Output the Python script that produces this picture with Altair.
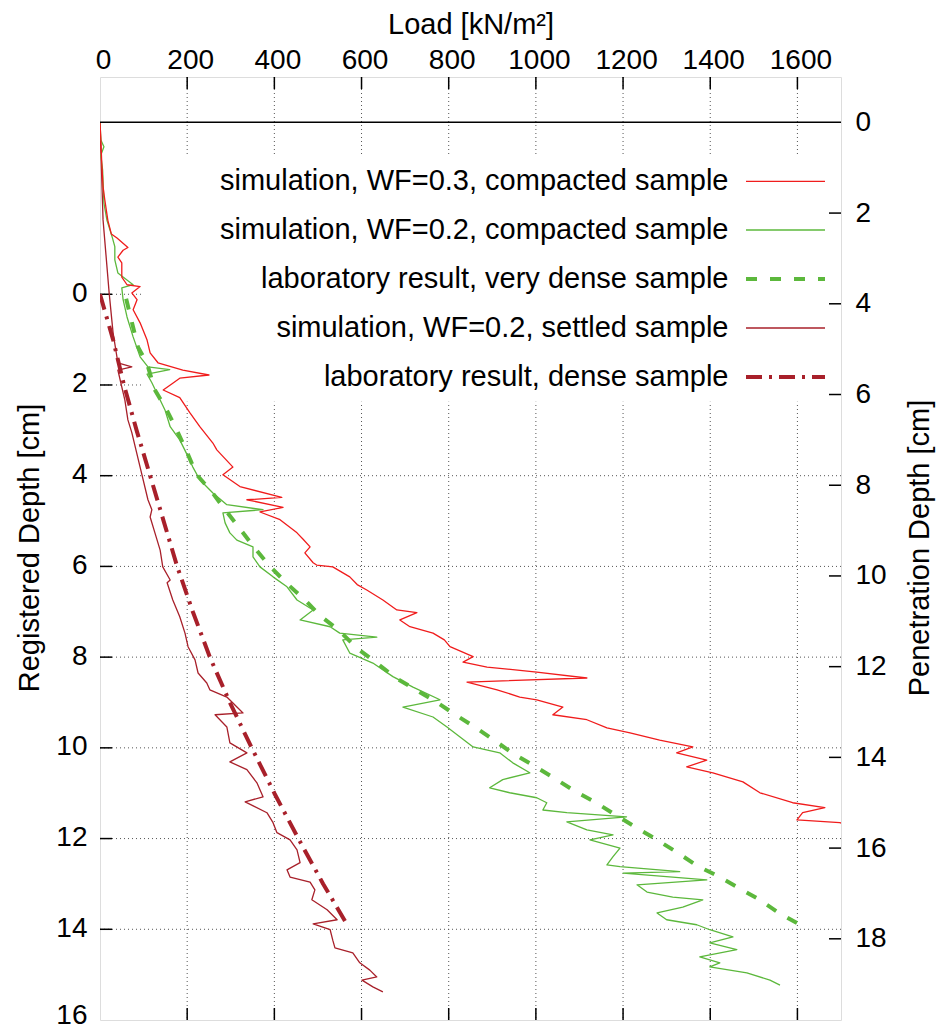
import altair as alt
import pandas as pd

# ------------------------------------------------------------------ data
X_TICKS = [0, 200, 400, 600, 800, 1000, 1200, 1400, 1600]
LEFT_TICKS = [0, 2, 4, 6, 8, 10, 12, 14, 16]
RIGHT_TICKS = [0, 2, 4, 6, 8, 10, 12, 14, 16, 18]
OFFSET = 3.79  # penetration depth minus registered depth [cm]

LABELS = [
    "simulation, WF=0.3, compacted sample",
    "simulation, WF=0.2, compacted sample",
    "laboratory result, very dense sample",
    "simulation, WF=0.2, settled sample",
    "laboratory result, dense sample",
]

# simulation, WF=0.3, compacted sample
RED_LOAD = [0, 2, 4, 7, 11, 18, 26, 39, 64, 53, 41, 50, 50, 62, 92, 73, 85, 76, 92, 108,
            115, 133, 190, 250, 183, 167, 145, 183, 206, 229, 259, 268, 305, 282, 321, 417,
            337, 420, 367, 413, 452, 466, 482, 470, 489, 497, 534, 573, 590, 612, 649, 681,
            727, 688, 711, 764, 790, 803, 856, 833, 888, 1002, 1117, 842, 911, 963, 1002,
            1062, 1039, 1117, 1163, 1216, 1284, 1360, 1323, 1392, 1346, 1406, 1475, 1514,
            1589, 1663, 1612, 1599, 1697, 1760]
RED_DEPTH = [-3.79, -3.40, -2.90, -2.37, -2.08, -1.63, -1.33, -1.24, -1.03, -0.97, -0.82,
             -0.69, -0.38, -0.21, -0.17, -0.03, 0.12, 0.34, 0.63, 1.01, 1.29, 1.51, 1.67,
             1.78, 1.85, 1.96, 2.11, 2.28, 2.61, 2.92, 3.28, 3.43, 3.81, 3.98, 4.24, 4.48,
             4.53, 4.70, 4.80, 4.97, 5.26, 5.40, 5.57, 5.70, 5.92, 5.97, 6.01, 6.23, 6.40,
             6.52, 6.74, 6.96, 7.02, 7.18, 7.33, 7.47, 7.62, 7.77, 7.99, 8.11, 8.22, 8.33,
             8.46, 8.55, 8.72, 8.88, 8.94, 9.10, 9.27, 9.38, 9.56, 9.67, 9.83, 9.98, 10.11,
             10.27, 10.42, 10.55, 10.75, 10.99, 11.21, 11.32, 11.43, 11.59, 11.65, 11.78]

# simulation, WF=0.2, compacted sample
GREEN_LOAD = [0, 2, 9, 2, 6, 9, 16, 28, 34, 34, 41, 76, 50, 53, 62, 76, 92, 110, 160, 108,
              119, 138, 149, 161, 183, 202, 213, 229, 259, 291, 374, 282, 287, 298, 314,
              351, 351, 367, 397, 429, 452, 489, 459, 528, 550, 635, 557, 573, 626, 672,
              718, 780, 695, 764, 796, 826, 856, 917, 947, 986, 924, 894, 940, 1002, 1025,
              1016, 1071, 1208, 1071, 1117, 1177, 1124, 1193, 1177, 1163, 1193, 1330, 1200,
              1392, 1232, 1255, 1314, 1383, 1337, 1278, 1300, 1369, 1399, 1452, 1399, 1461,
              1376, 1422, 1399, 1484, 1537, 1560]
GREEN_DEPTH = [-3.79, -3.40, -3.25, -3.07, -2.74, -2.01, -1.63, -1.26, -1.05, -0.76, -0.47,
               -0.21, -0.14, 0.12, 0.50, 0.94, 1.38, 1.60, 1.66, 1.76, 1.95, 2.33, 2.55,
               2.92, 3.21, 3.58, 3.81, 4.09, 4.38, 4.64, 4.75, 4.82, 5.04, 5.26, 5.42, 5.57,
               5.79, 6.01, 6.23, 6.45, 6.74, 6.96, 7.18, 7.33, 7.47, 7.56, 7.62, 7.91, 8.13,
               8.43, 8.66, 8.94, 9.10, 9.32, 9.54, 9.76, 9.98, 10.11, 10.33, 10.55, 10.70,
               10.88, 10.99, 11.10, 11.21, 11.37, 11.43, 11.52, 11.63, 11.81, 11.92, 12.03,
               12.21, 12.40, 12.58, 12.62, 12.73, 12.76, 12.91, 13.02, 13.18, 13.29, 13.35,
               13.51, 13.64, 13.79, 13.90, 14.01, 14.17, 14.30, 14.45, 14.61, 14.74, 14.83,
               14.96, 15.12, 15.23]

# laboratory result, very dense sample
VDENSE_LOAD = [60, 87, 108, 126, 153, 176, 199, 222, 256, 287, 321, 352, 390, 428, 470, 508,
               547, 589, 631, 679, 772, 812, 858, 904, 950, 995, 1041, 1087, 1135, 1183, 1229,
               1275, 1323, 1370, 1416, 1462, 1510, 1556, 1602]
VDENSE_DEPTH = [0.10, 1.16, 1.53, 2.11, 2.55, 2.99, 3.47, 3.98, 4.35, 4.75, 5.17, 5.56, 6.00,
                6.37, 6.74, 7.11, 7.40, 7.80, 8.10, 8.46, 8.99, 9.25, 9.53, 9.83, 10.14, 10.39,
                10.66, 10.94, 11.19, 11.48, 11.75, 12.01, 12.30, 12.60, 12.82, 13.07, 13.33,
                13.63, 13.88]

# simulation, WF=0.2, settled sample
SETTLED_LOAD = [0, 7, 21, 30, 41, 73, 41, 53, 57, 64, 73, 92, 110, 119, 115, 126, 138, 144,
                161, 154, 167, 183, 195, 202, 218, 225, 245, 252, 291, 305, 328, 264, 291,
                298, 337, 298, 337, 360, 374, 333, 383, 397, 406, 436, 452, 459, 429, 436,
                482, 493, 486, 521, 544, 489, 528, 534, 539, 580, 596, 619, 635, 601, 626, 649]
SETTLED_DEPTH = [-3.79, -1.64, -0.03, 0.85, 1.51, 1.60, 1.67, 2.17, 2.33, 2.77, 3.05, 3.81,
                 4.53, 4.75, 4.91, 5.26, 5.64, 6.01, 6.30, 6.36, 6.74, 7.11, 7.47, 7.77, 8.06,
                 8.35, 8.57, 8.72, 8.88, 9.01, 9.23, 9.27, 9.54, 9.89, 10.11, 10.31, 10.48,
                 10.77, 11.08, 11.19, 11.43, 11.65, 11.87, 12.03, 12.25, 12.53, 12.69, 12.85,
                 12.96, 13.13, 13.35, 13.57, 13.79, 13.88, 14.01, 14.24, 14.41, 14.52, 14.74,
                 14.90, 15.05, 15.12, 15.27, 15.38]

# laboratory result, dense sample
DENSE_LOAD = [0, 30, 55, 84, 115, 146, 177, 213, 252, 298, 348, 400, 455, 512, 569]
DENSE_DEPTH = [0, 1, 2, 3, 4, 5, 6, 7, 8, 9, 10, 11, 12, 13, 13.93]

# ------------------------------------------------------------------ layout
W, H = 741, 943
X_DOM = [0, 1700]
Y_DOM = [-4.79, 16]
P_DOM = [Y_DOM[0] + OFFSET, Y_DOM[1] + OFFSET]
FONT = "Liberation Sans"
TICK_PX = 12
DX = TICK_PX * (X_DOM[1] - X_DOM[0]) / W
DY = TICK_PX * (Y_DOM[1] - Y_DOM[0]) / H

C_RED = "#f01c1c"
C_GREEN = "#5cb83c"
C_DRED = "#a8202a"

XS = alt.Scale(domain=X_DOM, nice=False, zero=False)
YS = alt.Scale(domain=Y_DOM, nice=False, zero=False, reverse=True)
PS = alt.Scale(domain=P_DOM, nice=False, zero=False, reverse=True)

top_axis = alt.Axis(orient="top", values=X_TICKS, format="d", title="Load [kN/m²]",
                    ticks=False, tickSize=0,
                    domain=False, grid=False, labelFont=FONT, labelFontSize=28,
                    labelColor="black", labelPadding=9, labelBaseline="alphabetic",
                    labelAngle=0, labelOffset=3, labelFlush=False, labelOverlap=False,
                    titleFont=FONT, titleFontSize=29, titleFontWeight="normal",
                    titleColor="black", titleX=W / 2, titleY=-44, titleAlign="center",
                    titleBaseline="alphabetic", titleAngle=0)
left_axis = alt.Axis(orient="left", values=LEFT_TICKS, format="d",
                     title="Registered Depth [cm]",
                     ticks=False, tickSize=0, domain=False, grid=False, labelFont=FONT,
                     labelFontSize=28, labelColor="black", labelPadding=13,
                     labelOffset={"condition": {"test": "datum.value >= 16", "value": -5},
                                  "value": -1},
                     labelFlush=False, labelOverlap=False, titleFont=FONT, titleFontSize=29,
                     titleFontWeight="normal", titleColor="black", titleX=-62,
                     titleY=H / 2 - 1, titleAngle=270, titleAlign="center",
                     titleBaseline="alphabetic")
right_axis = alt.Axis(orient="right", values=RIGHT_TICKS, format="d",
                      title="Penetration Depth [cm]",
                      ticks=False, tickSize=0, domain=False, grid=False, labelFont=FONT,
                      labelFontSize=28, labelColor="black", labelPadding=14,
                      labelAlign="left", labelFlush=False, labelOverlap=False,
                      titleFont=FONT, titleFontSize=29, titleFontWeight="normal",
                      titleColor="black", titleX=87, titleY=H / 2 - 1, titleAngle=270,
                      titleAlign="center", titleBaseline="alphabetic")


def xq(field):
    return alt.X(field, type="quantitative", scale=XS, axis=top_axis)


def yq(field):
    return alt.Y(field, type="quantitative", scale=YS, axis=left_axis)


GRID = dict(color="#555555", strokeWidth=1, strokeDash=[1, 3])

vgrid = alt.Chart(pd.DataFrame({"x": X_TICKS[1:]})).mark_rule(**GRID).encode(x=xq("x"))
hgrid = alt.Chart(pd.DataFrame({"y": LEFT_TICKS[:-1]})).mark_rule(**GRID).encode(y=yq("y"))

# opaque key box (hides the grid behind the key)
box = alt.Chart(pd.DataFrame({"x": [98], "x2": [X_DOM[1]], "y": [-3.03], "y2": [2.37]})
                ).mark_rect(fill="white").encode(x=xq("x"), x2="x2", y=yq("y"), y2="y2")

TICK = dict(color="black", strokeWidth=1.5)
top_t = alt.Chart(pd.DataFrame({"x": X_TICKS[1:], "y": Y_DOM[0], "y2": Y_DOM[0] + DY})
                  ).mark_rule(**TICK).encode(x=xq("x"), y=yq("y"), y2="y2")
bot_t = alt.Chart(pd.DataFrame({"x": X_TICKS[1:], "y": Y_DOM[1], "y2": Y_DOM[1] - DY})
                  ).mark_rule(**TICK).encode(x=xq("x"), y=yq("y"), y2="y2")
left_t = alt.Chart(pd.DataFrame({"x": 0.0, "x2": DX, "y": LEFT_TICKS[:-1]})
                   ).mark_rule(**TICK).encode(x=xq("x"), x2="x2", y=yq("y"))
right_t = alt.Chart(pd.DataFrame({"x": X_DOM[1] - DX, "x2": float(X_DOM[1]),
                                  "y": [p - OFFSET for p in RIGHT_TICKS[1:]]})
                    ).mark_rule(**TICK).encode(x=xq("x"), x2="x2", y=yq("y"))


def curve(load, depth, **style):
    df = pd.DataFrame({"load": load, "reg": depth, "i": range(len(load))})
    return alt.Chart(df).mark_line(clip=True, strokeJoin="round", **style).encode(
        x=xq("load"), y=yq("reg"), order=alt.Order("i:Q"))


STYLES = [
    dict(color=C_RED, strokeWidth=1.3),
    dict(color=C_GREEN, strokeWidth=1.3),
    dict(color=C_GREEN, strokeWidth=4, strokeDash=[11, 13]),
    dict(color=C_DRED, strokeWidth=1.3),
    dict(color=C_DRED, strokeWidth=4, strokeDash=[16, 7, 3, 7]),
]

curves = [
    curve(VDENSE_LOAD, VDENSE_DEPTH, **STYLES[2]),
    curve(DENSE_LOAD, DENSE_DEPTH, **STYLES[4]),
    curve(SETTLED_LOAD, SETTLED_DEPTH, **STYLES[3]),
    curve(GREEN_LOAD, GREEN_DEPTH, **STYLES[1]),
    curve(RED_LOAD, RED_DEPTH, **STYLES[0]),
]

# key (gnuplot style: text right-aligned, sample to its right)
ROW_Y = [104.4, 153.0, 202.0, 251.0, 300.0]
key = []
for lab, yy, st in zip(LABELS, ROW_Y, STYLES):
    key.append(alt.Chart(pd.DataFrame({"t": [lab]})).mark_text(
        font=FONT, fontSize=29, color="black", align="right", baseline="middle").encode(
        x=alt.value(628.5), y=alt.value(yy), text="t:N"))
    key.append(alt.Chart(pd.DataFrame({"t": [lab]})).mark_rule(**st).encode(
        x=alt.value(646), x2=alt.value(725), y=alt.value(yy)))

inner = alt.layer(vgrid, hgrid, box, top_t, bot_t, left_t, right_t, *curves, *key)

zero_line = alt.Chart(pd.DataFrame({"p": [0]})).mark_rule(color="black", strokeWidth=1.5
                                                            ).encode(
    y=alt.Y("p", type="quantitative", scale=PS, axis=right_axis))

chart = alt.layer(inner, zero_line).resolve_scale(y="independent").properties(
    width=W, height=H,
    padding={"left": 100, "top": 77, "right": 99, "bottom": 10},
    autosize=alt.AutoSizeParams(type="none"),
).configure_view(stroke="#222222", strokeWidth=1.5).configure(background="white")

chart.save("out.html", embed_options={"renderer": "svg", "actions": False})
